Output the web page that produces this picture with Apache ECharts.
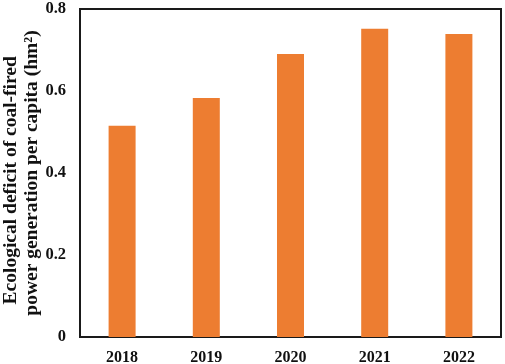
<!DOCTYPE html>
<html>
<head>
<meta charset="utf-8">
<script src="https://cdn.jsdelivr.net/npm/echarts@6/dist/echarts.min.js"></script>
<style>
  html, body { margin: 0; padding: 0; background: #fff; }
  #chart { width: 505px; height: 364px; }
</style>
</head>
<body>
<div id="chart"></div>
<script>
const years = ['2018', '2019', '2020', '2021', '2022'];
const deficit = [0.515, 0.583, 0.69, 0.752, 0.739];
const yTicks = [0, 0.2, 0.4, 0.6, 0.8];

const font = 'Liberation Serif';
const chart = echarts.init(document.getElementById('chart'));

chart.setOption({
  animation: false,
  grid: {
    show: true,
    left: 80,
    right: 4,
    top: 9,
    bottom: 27,
    outerBoundsMode: 'none',
    containLabel: false,
    borderColor: '#1a1a1a',
    borderWidth: 2,
    backgroundColor: 'transparent'
  },
  xAxis: {
    type: 'category',
    data: years,
    axisLine: { show: false },
    axisTick: { show: false },
    axisLabel: {
      color: '#111',
      fontFamily: font,
      fontWeight: 'bold',
      fontSize: 16,
      margin: 13
    }
  },
  yAxis: {
    type: 'value',
    min: 0,
    max: 0.8,
    interval: 0.2,
    // trailing spaces nudge the first line down like in the original
    name: 'Ecological deficit of coal-fired   \npower generation per capita (hm²)',
    nameLocation: 'middle',
    nameRotate: 90,
    nameGap: 38,
    nameMoveOverlap: false,
    nameTextStyle: {
      color: '#111',
      fontFamily: font,
      fontWeight: 'bold',
      fontSize: 19.5,
      lineHeight: 21
    },
    axisLine: { show: false },
    axisTick: { show: false },
    splitLine: { show: false },
    axisLabel: {
      color: '#111',
      fontFamily: font,
      fontWeight: 'bold',
      fontSize: 16.5,
      margin: 14,
      formatter: v => yTicks.includes(v) ? String(v) : ''
    }
  },
  series: [{
    type: 'bar',
    data: deficit,
    barWidth: 27,
    itemStyle: { color: '#ED7D31' }
  }]
});
</script>
</body>
</html>
